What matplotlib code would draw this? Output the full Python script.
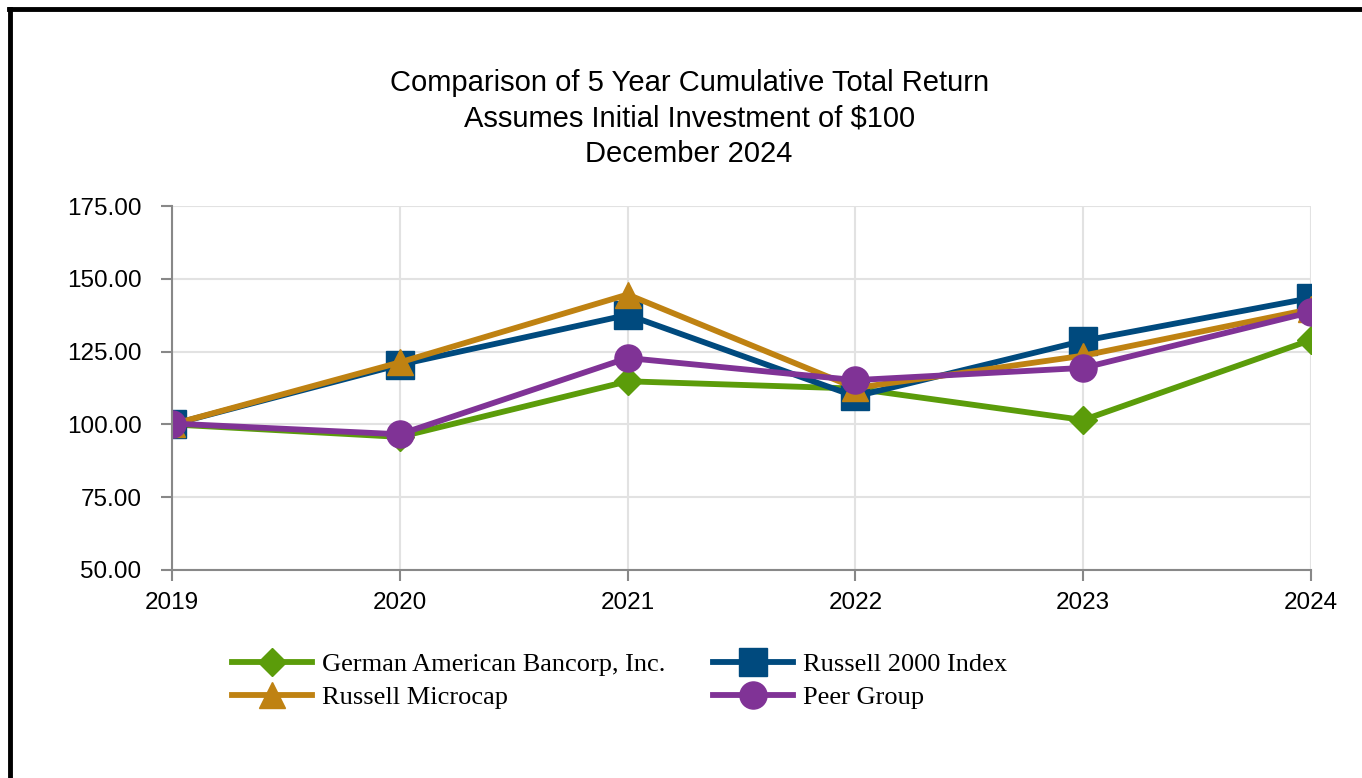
import matplotlib.pyplot as plt
from matplotlib.lines import Line2D

years = [2019, 2020, 2021, 2022, 2023, 2024]
german = [100.0, 95.7, 114.8, 112.3, 101.5, 129.0]
russell2000 = [100.0, 120.5, 137.6, 109.6, 128.7, 143.4]
microcap = [100.0, 121.3, 144.6, 112.5, 123.6, 139.6]
peer = [100.3, 96.6, 122.8, 115.2, 119.4, 138.6]

names = ['German American Bancorp, Inc.', 'Russell 2000 Index', 'Russell Microcap', 'Peer Group']
colors = ['#5b9c0a', '#004a7e', '#bf8212', '#803396']
markers = ['D', 's', '^', 'o']
msizes = [14, 20, 19, 19.5]
series = [german, russell2000, microcap, peer]

fig = plt.figure(figsize=(13.62, 7.78), dpi=100)
ax = fig.add_axes([0.1263, 0.2674, 0.8363, 0.4678])

lines = {}
for name, vals, c, m, ms in zip(names, series, colors, markers, msizes):
    ln, = ax.plot(years, vals, color=c, marker=m, markersize=ms, linewidth=4.2,
                  label=name, solid_joinstyle='miter')
    lines[name] = ln

ax.set_xlim(2019, 2024)
ax.set_ylim(50, 175)
ax.set_xticks(years)
ax.set_yticks([50, 75, 100, 125, 150, 175])
ax.set_yticklabels(['%.2f' % v for v in [50, 75, 100, 125, 150, 175]])
ax.grid(True, color='#e2e2e2', linewidth=1.5)
ax.set_axisbelow(True)
for s in ['top', 'right']:
    ax.spines[s].set_visible(False)
for s in ['left', 'bottom']:
    ax.spines[s].set_color('#888888')
    ax.spines[s].set_linewidth(1.5)
ax.tick_params(axis='both', colors='#888888', labelcolor='black', labelsize=17.5,
               length=8, width=1.5)
for lbl in ax.get_xticklabels() + ax.get_yticklabels():
    lbl.set_family('Liberation Sans')
ax.tick_params(axis='y', pad=14)
ax.tick_params(axis='x', pad=8)

title_x = 0.506
fig.text(title_x, 0.893, 'Comparison of 5 Year Cumulative Total Return', ha='center', va='center',
         fontsize=21, family='Liberation Sans')
fig.text(title_x, 0.848, 'Assumes Initial Investment of $100', ha='center', va='center',
         fontsize=21, family='Liberation Sans')
fig.text(title_x, 0.802, 'December 2024', ha='center', va='center',
         fontsize=21, family='Liberation Sans')

handles = [lines[names[0]], lines[names[2]], lines[names[1]], lines[names[3]]]
labels = [names[0], names[2], names[1], names[3]]
fig.legend(handles, labels, ncol=2, loc='center left', bbox_to_anchor=(0.1625, 0.1247),
           borderaxespad=0, frameon=False, prop={'family': 'Liberation Serif', 'size': 19},
           handlelength=3.03, handletextpad=0.38, columnspacing=1.8, labelspacing=0.35)

fig.add_artist(Line2D([0.0066, 1.0], [0.9878, 0.9878], color='black', linewidth=3.5))
fig.add_artist(Line2D([0.0077, 0.0077], [0.0, 0.989], color='black', linewidth=3.5))

plt.savefig('out.png', dpi=100)
